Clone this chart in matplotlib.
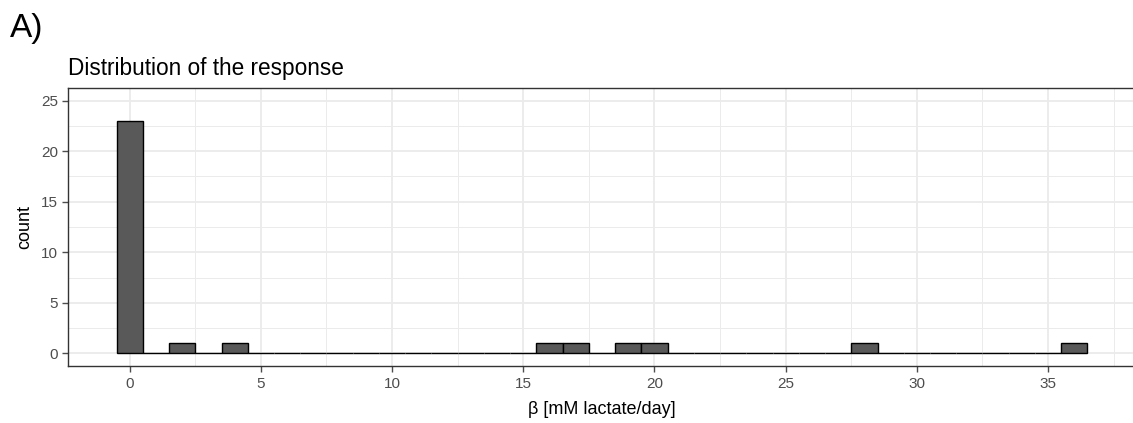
import matplotlib
matplotlib.use("Agg")
import matplotlib.pyplot as plt
import numpy as np

# Histogram counts, one bin per unit of beta (bins centred on integers)
bin_centers = np.arange(0, 37)
nonzero_bins = [0, 2, 4, 16, 17, 19, 20, 28, 36]
nonzero_counts = [23, 1, 1, 1, 1, 1, 1, 1, 1]

counts = np.zeros(len(bin_centers))
for b, c in zip(nonzero_bins, nonzero_counts):
    counts[b] = c

x_ticks = [0, 5, 10, 15, 20, 25, 30, 35]
y_ticks = [0, 5, 10, 15, 20, 25]

plt.rcParams['font.family'] = ['Liberation Sans', 'DejaVu Sans']

fig = plt.figure(figsize=(11.33, 4.23), dpi=100)
W, H = 1133, 423
ax = fig.add_axes([68 / W, 1 - 366 / H, (1136 - 68) / W, (366 - 88) / H])

# Grid like theme_bw
for v in np.arange(2.5, 40, 5):
    ax.axvline(v, color='#EBEBEB', lw=0.7, zorder=0)
for v in x_ticks:
    ax.axvline(v, color='#EBEBEB', lw=1.3, zorder=0)
for v in np.arange(2.5, 27, 5):
    ax.axhline(v, color='#EBEBEB', lw=0.7, zorder=0)
for v in y_ticks:
    ax.axhline(v, color='#EBEBEB', lw=1.3, zorder=0)

ax.bar(bin_centers, counts, width=1.0, color='#595959', edgecolor='black',
       linewidth=1.0, zorder=2)

ax.set_xlim(-2.35, 38.35)
ax.set_ylim(-1.25, 26.25)
ax.set_xticks(x_ticks)
ax.set_yticks(y_ticks)
ax.tick_params(axis='both', colors='#4D4D4D', labelcolor='#4D4D4D',
               labelsize=11, length=4, width=1.0)
ax.tick_params(axis='x', pad=4)
ax.tick_params(axis='y', pad=3)
for s in ax.spines.values():
    s.set_color('#333333')
    s.set_linewidth(1.0)

ax.set_xlabel('β [mM lactate/day]', fontsize=13, color='black', labelpad=7)
ax.set_ylabel('count', fontsize=13, color='black', labelpad=6)

fig.text(68 / W, 1 - 68 / H, 'Distribution of the response', fontsize=16.3,
         ha='left', va='center', color='black')
fig.text(10 / W, 1 - 28 / H, 'A)', fontsize=24, ha='left', va='center',
         color='black')

fig.savefig('out.png', dpi=100)
